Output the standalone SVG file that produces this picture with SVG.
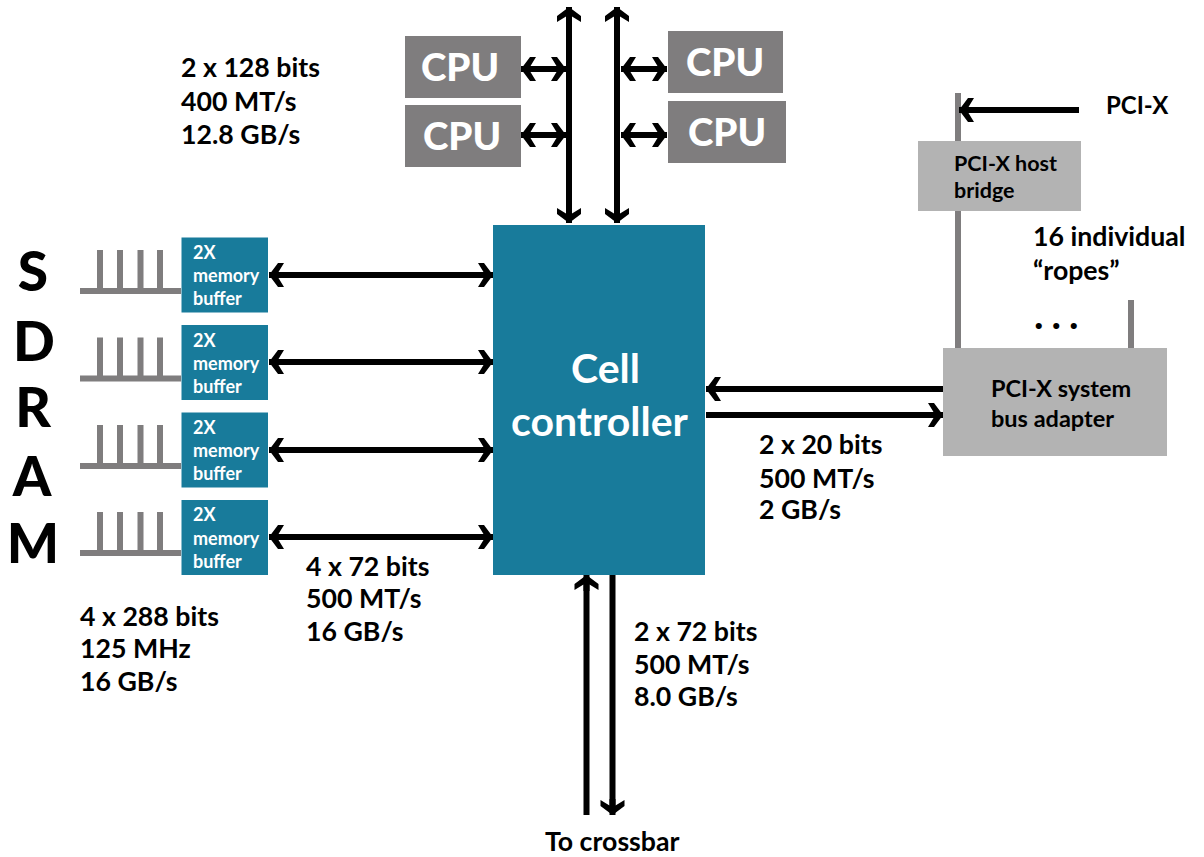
<svg xmlns="http://www.w3.org/2000/svg" width="1204" height="857" viewBox="0 0 1204 857">
<style>
text{font-family:"Lato","Noto Sans",sans-serif;font-weight:700;fill:#000}
.l{font-size:26.700px}
.m{font-size:18px;fill:#fff}
.g{fill:#7f7d7e}
.t{fill:#187b9b}
.p{fill:#b3b3b3}
.cpu{font-size:38.500px;font-weight:900;fill:#fff;text-anchor:middle}
.sd{font-size:55px;font-weight:900;text-anchor:middle}
.r{stroke:#7f7d7e;stroke-width:6;fill:none}
.a{stroke:#000;stroke-width:6;fill:none}
.both{marker-start:url(#h);marker-end:url(#h)}
.end{marker-end:url(#h)}
</style>
<defs>
<marker id="h" markerUnits="userSpaceOnUse" markerWidth="16" markerHeight="26" refX="13" refY="12" orient="auto-start-reverse" overflow="visible">
<path d="M13 12L4 0L-2 0L3.500 9L-3 9L-3 15L3.500 15L-2 24L4 24Z" fill="#000"/>
</marker>
</defs>
<rect width="1204" height="857" fill="#fff"/>
<g id="sdram-label">
<text class="sd" x="33" y="291">S</text><text class="sd" x="34" y="361">D</text><text class="sd" x="33" y="427">R</text><text class="sd" x="32" y="496">A</text><text class="sd" x="33" y="563">M</text>
</g>
<g id="sdram-buses">
<path class="r" d="M80 291H181M100 250V291M120 250V291M140.500 250V291M160 250V291"/>
<path class="r" d="M80 378.500H181M100 337.500V378.500M120 337.500V378.500M140.500 337.500V378.500M160 337.500V378.500"/>
<path class="r" d="M80 466H181M100 425V466M120 425V466M140.500 425V466M160 425V466"/>
<path class="r" d="M80 553H181M100 512V553M120 512V553M140.500 512V553M160 512V553"/>
</g>
<g id="connectors">
<path class="a both" d="M569 7V223"/>
<path class="a both" d="M617 7V223"/>
<path class="a both" d="M521 69H566"/>
<path class="a both" d="M521 135H566"/>
<path class="a both" d="M621 69H667"/>
<path class="a both" d="M621 135H667"/>
<path class="a both" d="M269 275H493"/>
<path class="a both" d="M269 362H493"/>
<path class="a both" d="M269 450H493"/>
<path class="a both" d="M269 537H493"/>
<path class="a end" d="M943 389H706"/>
<path class="a end" d="M706 415H943"/>
<path class="a end" d="M586.500 815V575"/>
<path class="a end" d="M612.500 575V815"/>
<path class="r" d="M958 93V142M958 211V348M1131 300V348"/>
<path class="a end" d="M1079 110H959"/>
</g>
<g id="cpu-1"><rect class="g" x="405" y="36" width="116" height="62"/><text class="cpu" x="460" y="81">CPU</text></g>
<g id="cpu-2"><rect class="g" x="405" y="105" width="116" height="62"/><text class="cpu" x="462" y="150">CPU</text></g>
<g id="cpu-3"><rect class="g" x="668" y="31" width="115" height="62"/><text class="cpu" x="725" y="76">CPU</text></g>
<g id="cpu-4"><rect class="g" x="668" y="101" width="118" height="62"/><text class="cpu" x="727" y="146">CPU</text></g>
<g id="cell-controller"><rect class="t" x="493" y="225" width="212" height="350"/>
<text x="605.500" y="383" text-anchor="middle" style="font-size:41px;fill:#fff">Cell</text>
<text x="599.500" y="436" text-anchor="middle" style="font-size:41px;fill:#fff">controller</text></g>
<g id="buffer-1"><rect class="t" x="181.500" y="237.500" width="86.500" height="75"/><text class="m" x="193" y="259">2X</text><text class="m" x="193" y="282">memory</text><text class="m" x="193" y="305">buffer</text></g>
<g id="buffer-2"><rect class="t" x="181.500" y="325" width="86.500" height="75"/><text class="m" x="193" y="347">2X</text><text class="m" x="193" y="370">memory</text><text class="m" x="193" y="393">buffer</text></g>
<g id="buffer-3"><rect class="t" x="181.500" y="412.500" width="86.500" height="75"/><text class="m" x="193" y="434">2X</text><text class="m" x="193" y="457">memory</text><text class="m" x="193" y="480">buffer</text></g>
<g id="buffer-4"><rect class="t" x="181.500" y="500" width="86.500" height="75"/><text class="m" x="193" y="521">2X</text><text class="m" x="193" y="545">memory</text><text class="m" x="193" y="568">buffer</text></g>
<g id="pci-host-bridge"><rect class="p" x="918" y="141" width="163" height="70"/><text x="954" y="171" style="font-size:21.500px">PCI-X host</text><text x="954" y="198" style="font-size:21.500px">bridge</text></g>
<g id="pci-bus-adapter"><rect class="p" x="943" y="348" width="224" height="108"/><text x="991" y="397" style="font-size:23.500px">PCI-X system</text><text x="991" y="427" style="font-size:23.500px">bus adapter</text></g>
<g id="labels">
<text class="l" x="181" y="77">2 x 128 bits</text><text class="l" x="181" y="111">400 MT/s</text><text class="l" x="181" y="144">12.8 GB/s</text>
<text x="1106" y="114" style="font-size:24px">PCI-X</text>
<text class="l" x="1033" y="246">16 individual</text><text class="l" x="1033" y="280">“ropes”</text>
<text x="1034" y="329" style="font-size:40px;letter-spacing:8px">...</text>
<text class="l" x="759" y="454">2 x 20 bits</text><text class="l" x="759" y="488">500 MT/s</text><text class="l" x="759" y="519">2 GB/s</text>
<text class="l" x="306" y="576">4 x 72 bits</text><text class="l" x="306" y="608">500 MT/s</text><text class="l" x="306" y="641">16 GB/s</text>
<text class="l" x="80" y="626">4 x 288 bits</text><text class="l" x="80" y="658">125 MHz</text><text class="l" x="80" y="691">16 GB/s</text>
<text class="l" x="634" y="641">2 x 72 bits</text><text class="l" x="634" y="674">500 MT/s</text><text class="l" x="634" y="706">8.0 GB/s</text>
<text class="l" x="545" y="851">To crossbar</text>
</g>
</svg>
